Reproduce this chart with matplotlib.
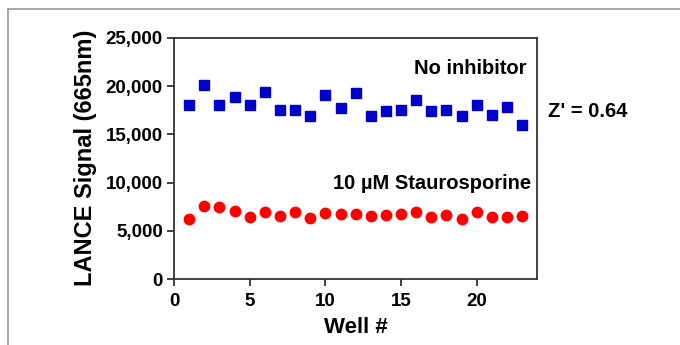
import matplotlib
matplotlib.use('Agg')
import matplotlib.pyplot as plt
from matplotlib.lines import Line2D
from matplotlib.ticker import FuncFormatter

plt.rcParams['font.family'] = ['Liberation Sans', 'DejaVu Sans']
plt.rcParams['font.weight'] = 'bold'

# data
wells = list(range(1, 24))
no_inhibitor = [18000, 20100, 18100, 18900, 18000, 19400, 17500, 17500, 16900, 19100,
                17700, 19300, 16900, 17400, 17500, 18600, 17400, 17500, 16900, 18100,
                17000, 17800, 16000]
staurosporine = [6200, 7600, 7500, 7100, 6400, 7000, 6500, 7000, 6300, 6900,
                 6700, 6700, 6500, 6600, 6700, 7000, 6400, 6600, 6200, 7000,
                 6400, 6400, 6500]

fig = plt.figure(figsize=(6.8, 3.45), dpi=100)
ax = fig.add_axes([0.256, 0.191, 0.534, 0.699])

ax.plot(wells, no_inhibitor, 's', color='#0000c8', markersize=7.5, linestyle='none')
ax.plot(wells, staurosporine, 'o', color='#ff0000', markersize=7.5, linestyle='none')

ax.set_xlim(0, 24)
ax.set_ylim(0, 25000)
ax.set_xticks([0, 5, 10, 15, 20])
ax.set_yticks([0, 5000, 10000, 15000, 20000, 25000])
ax.yaxis.set_major_formatter(FuncFormatter(lambda v, p: f'{int(v):,}'))

for s in ax.spines.values():
    s.set_linewidth(1.3)
    s.set_color('#333333')
ax.tick_params(width=1.3, length=5, labelsize=13.5, color='#333333', pad=3)
ax.tick_params(axis='x', pad=5)
for lab in ax.get_xticklabels() + ax.get_yticklabels():
    lab.set_fontweight('bold')

ax.set_xlabel('Well #', fontsize=16, fontweight='bold', labelpad=5)
ax.set_ylabel('LANCE Signal (665nm)', fontsize=17, fontweight='bold')
ax.yaxis.set_label_coords(-0.211, 0.505)

ax.text(23.3, 21800, 'No inhibitor', ha='right', va='center', fontsize=14.5, fontweight='bold')
ax.text(23.6, 9900, '10 µM Staurosporine', ha='right', va='center', fontsize=14.5, fontweight='bold')
fig.text(0.806, 0.678, "Z' = 0.64", ha='left', va='center', fontsize=14.5, fontweight='bold')

# frame around the figure
fig.add_artist(Line2D([0.012, 1.0], [0.974, 0.974], color='#999999', linewidth=1.2,
                      transform=fig.transFigure))
fig.add_artist(Line2D([0.012, 0.012], [0.0, 0.974], color='#999999', linewidth=1.2,
                      transform=fig.transFigure))

fig.savefig('out.png', dpi=100)
